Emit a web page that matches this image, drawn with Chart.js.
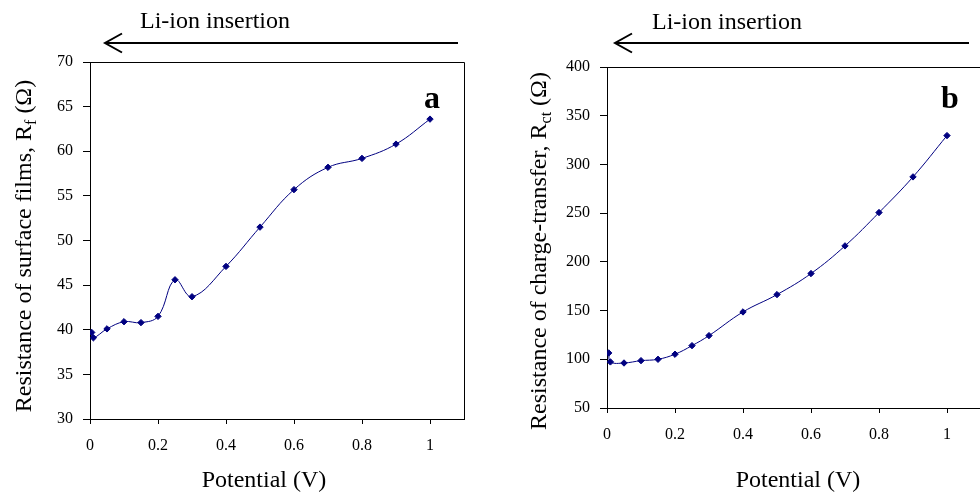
<!DOCTYPE html>
<html>
<head>
<meta charset="utf-8">
<script src="https://cdn.jsdelivr.net/npm/chart.js@4.4.0/dist/chart.umd.min.js"></script>
<style>
html, body { margin: 0; padding: 0; background: #fff; overflow: hidden; }
#wrap { position: relative; width: 980px; height: 494px; overflow: hidden; }
#chartA { position: absolute; left: 0; top: 0; }
#chartB { position: absolute; left: 490px; top: 0; }
</style>
</head>
<body>
<div id="wrap">
  <canvas id="chartA" width="490" height="494"></canvas>
  <canvas id="chartB" width="496" height="494"></canvas>
</div>
<script>
// potential (V) of each measurement
const potentials = [0.005, 0.01, 0.05, 0.1, 0.15, 0.2, 0.25, 0.3, 0.4, 0.5, 0.6, 0.7, 0.8, 0.9, 1.0];
// surface film resistance Rf (ohm)
const rfValues = [39.7, 39.1, 40.1, 40.9, 40.8, 41.5, 45.6, 43.7, 47.1, 51.5, 55.7, 58.2, 59.2, 60.8, 63.6];
// charge-transfer resistance Rct (ohm)
const rctValues = [106.5, 97.3, 96.2, 98.6, 100, 105.2, 114, 124.3, 148.6, 166.4, 188, 216.4, 250.6, 287.2, 329.6];

const xTicks = [0, 0.2, 0.4, 0.6, 0.8, 1];
const yTicksA = [30, 35, 40, 45, 50, 55, 60, 65, 70];
const yTicksB = [50, 100, 150, 200, 250, 300, 350, 400];

const serif = '"Liberation Serif", "Times New Roman", serif';
const navy = '#000080';

// frame, arrow, panel letter and axis titles (with subscripts)
const decoPlugin = {
    id: 'deco',
    afterDraw(chart, args, o) {
        const ctx = chart.ctx;
        const a = chart.chartArea;
        ctx.save();
        ctx.strokeStyle = '#000';
        ctx.lineWidth = 1;
        ctx.beginPath();
        const t = Math.round(a.top) + 0.5, r = Math.round(a.right) + 0.5;
        ctx.moveTo(Math.round(a.left), t);
        ctx.lineTo(r, t);
        ctx.lineTo(r, Math.round(a.bottom) + 1);
        ctx.stroke();

        // Li-ion insertion arrow
        ctx.lineWidth = 2;
        ctx.beginPath();
        ctx.moveTo(o.arrow.end, o.arrow.y);
        ctx.lineTo(o.arrow.tip, o.arrow.y);
        ctx.moveTo(o.arrow.tip + 17, o.arrow.y - 9.5);
        ctx.lineTo(o.arrow.tip, o.arrow.y);
        ctx.lineTo(o.arrow.tip + 17, o.arrow.y + 9.5);
        ctx.stroke();

        ctx.fillStyle = '#000';
        ctx.textBaseline = 'alphabetic';
        ctx.font = '24px ' + serif;
        ctx.textAlign = 'left';
        ctx.fillText('Li-ion insertion', o.arrow.textX, o.arrow.textY);

        // panel letter
        ctx.font = 'bold 32px ' + serif;
        ctx.textAlign = 'center';
        ctx.fillText(o.letter, o.letterX, o.letterY);

        // x title
        ctx.font = '24px ' + serif;
        ctx.fillText('Potential (V)', o.xTitleX, o.xTitleY);

        // y title, rotated, with subscript
        const [pre, sub, post] = o.yTitle;
        const big = '24px ' + serif, small = '16px ' + serif;
        ctx.font = big;
        const w1 = ctx.measureText(pre).width;
        const w3 = ctx.measureText(post).width;
        ctx.font = small;
        const w2 = ctx.measureText(sub).width;
        const total = w1 + w2 + w3;
        ctx.translate(o.yTitleX, o.yTitleY);
        ctx.rotate(-Math.PI / 2);
        ctx.textAlign = 'left';
        let x = -total / 2;
        ctx.font = big;
        ctx.fillText(pre, x, 0);
        x += w1;
        ctx.font = small;
        ctx.fillText(sub, x, 5);
        x += w2;
        ctx.font = big;
        ctx.fillText(post, x, 0);
        ctx.restore();
    }
};

function makeChart(id, values, yTicks, yMin, yMax, yWidth, xHeight, padding, deco) {
    const ctx = document.getElementById(id).getContext('2d');
    return new Chart(ctx, {
        type: 'line',
        data: {
            datasets: [{
                data: potentials.map((p, i) => ({x: p, y: values[i]})),
                borderColor: navy,
                backgroundColor: navy,
                borderWidth: 1,
                pointStyle: 'rectRot',
                pointRadius: 3.2,
                pointBorderWidth: 1,
                tension: 0.4,
                fill: false
            }]
        },
        options: {
            responsive: false,
            animation: false,
            devicePixelRatio: 1,
            layout: { padding: padding },
            plugins: {
                legend: { display: false },
                tooltip: { enabled: false },
                deco: deco
            },
            scales: {
                x: {
                    type: 'linear',
                    min: 0,
                    max: 1.1,
                    afterBuildTicks: s => { s.ticks = xTicks.map(v => ({value: v})); },
                    afterFit: s => { s.height = xHeight; },
                    grid: { drawOnChartArea: false, drawTicks: true, tickLength: 5, color: '#000' },
                    border: { display: true, color: '#000', width: 1 },
                    ticks: {
                        color: '#000',
                        padding: 12,
                        maxRotation: 0,
                        font: { family: serif, size: 16 },
                        callback: v => String(v)
                    }
                },
                y: {
                    type: 'linear',
                    min: yMin,
                    max: yMax,
                    afterBuildTicks: s => { s.ticks = yTicks.map(v => ({value: v})); },
                    afterFit: s => { s.width = yWidth; },
                    grid: { drawOnChartArea: false, drawTicks: true, tickLength: 7, color: '#000' },
                    border: { display: true, color: '#000', width: 1 },
                    ticks: {
                        color: '#000',
                        padding: 10,
                        font: { family: serif, size: 16 },
                        callback: v => String(v)
                    }
                }
            }
        },
        plugins: [decoPlugin]
    });
}

// Panel a: surface films
makeChart('chartA', rfValues, yTicksA, 30, 70, 90, 75,
    { left: 0, top: 62, right: 26, bottom: 0 },
    {
        arrow: { tip: 105, end: 458, y: 43, textX: 140, textY: 28 },
        letter: 'a', letterX: 432, letterY: 108,
        xTitleX: 264, xTitleY: 487,
        yTitle: ['Resistance of surface films, R', 'f', ' (\u03A9)'],
        yTitleX: 31, yTitleY: 246
    });

// Panel b: charge transfer
makeChart('chartB', rctValues, yTicksB, 50, 400, 117, 86,
    { left: 0, top: 67, right: 5, bottom: 0 },
    {
        arrow: { tip: 125, end: 479, y: 43, textX: 162, textY: 29 },
        letter: 'b', letterX: 460, letterY: 108,
        xTitleX: 308, xTitleY: 487,
        yTitle: ['Resistance of charge-transfer, R', 'ct', ' (\u03A9)'],
        yTitleX: 56, yTitleY: 251
    });
</script>
</body>
</html>
